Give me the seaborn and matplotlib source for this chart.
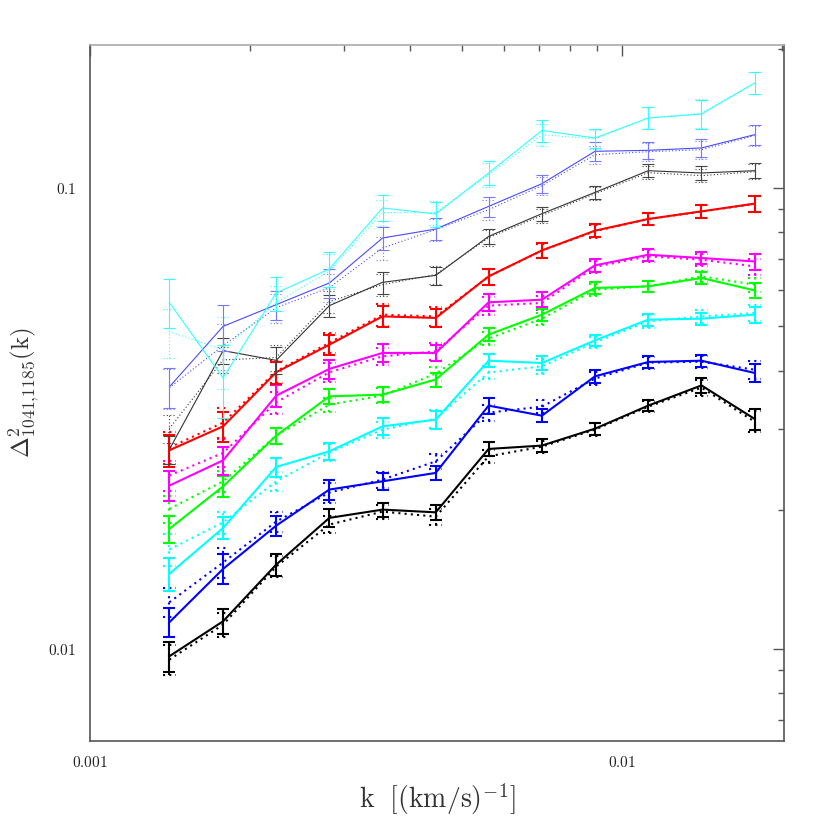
import numpy as np
import pandas as pd
import matplotlib
matplotlib.use("Agg")
import matplotlib.pyplot as plt
import seaborn as sns
from matplotlib.ticker import LogLocator, FixedLocator, FixedFormatter, NullFormatter

# ---------------- data ----------------
k = [0.00141, 0.00178, 0.00224, 0.00282, 0.00355, 0.00447,
     0.00562, 0.00708, 0.00891, 0.01122, 0.01413, 0.01778]

series_names = ["black", "blue", "cyan", "green", "magenta", "red",
                "black_thin", "blue_thin", "cyan_thin"]

# measured (solid) values
black_obs = [0.00962, 0.01146, 0.01521, 0.01921, 0.02002, 0.01975,
             0.02711, 0.02757, 0.03000, 0.03366, 0.03724, 0.03150]
blue_obs = [0.01140, 0.01489, 0.01848, 0.02213, 0.02306, 0.02405,
            0.03366, 0.03201, 0.03897, 0.04186, 0.04213, 0.03963]
cyan_obs = [0.01452, 0.01827, 0.02478, 0.02679, 0.03035, 0.03138,
            0.04213, 0.04165, 0.04664, 0.05172, 0.05197, 0.05302]
green_obs = [0.01818, 0.02249, 0.02897, 0.03526, 0.03556, 0.03835,
             0.04799, 0.05302, 0.06059, 0.06108, 0.06369, 0.05987]
magenta_obs = [0.02257, 0.02561, 0.03538, 0.04044, 0.04380, 0.04380,
               0.05639, 0.05715, 0.06784, 0.07153, 0.07036, 0.06918]
red_obs = [0.02693, 0.03035, 0.03976, 0.04564, 0.05257, 0.05216,
           0.06421, 0.07311, 0.08067, 0.08553, 0.08884, 0.09233]
black_thin_obs = [0.02702, 0.04430, 0.04220, 0.05546, 0.06231, 0.06452,
                  0.07839, 0.08782, 0.09768, 0.10886, 0.10762, 0.10886]
blue_thin_obs = [0.03695, 0.05001, 0.05574, 0.06212, 0.07776, 0.08133,
                 0.09109, 0.10202, 0.11993, 0.12053, 0.12198, 0.13031]
cyan_thin_obs = [0.05638, 0.03866, 0.05910, 0.06662, 0.09036, 0.08769,
                 0.10762, 0.13311, 0.12815, 0.14163, 0.14449, 0.16867]

# comparison (dotted) values
black_alt = [0.00946, 0.01127, 0.01506, 0.01858, 0.01982, 0.01933,
             0.02613, 0.02742, 0.02986, 0.03349, 0.03683, 0.03108]
blue_alt = [0.01260, 0.01537, 0.01886, 0.02180, 0.02326, 0.02548,
            0.03250, 0.03349, 0.03853, 0.04172, 0.04193, 0.04028]
cyan_alt = [0.01640, 0.01879, 0.02306, 0.02661, 0.02986, 0.03154,
            0.03970, 0.04097, 0.04617, 0.05129, 0.05257, 0.05347]
green_alt = [0.02009, 0.02306, 0.02897, 0.03383, 0.03538, 0.03950,
             0.04704, 0.05197, 0.06006, 0.06108, 0.06421, 0.06161]
magenta_alt = [0.02373, 0.02658, 0.03422, 0.03976, 0.04306, 0.04414,
               0.05546, 0.05622, 0.06730, 0.07096, 0.06979, 0.06750]
red_alt = [0.02729, 0.03092, 0.03996, 0.04610, 0.05302, 0.05257,
           0.06416, 0.07301, 0.08047, 0.08545, 0.08876, 0.09222]
black_thin_alt = [0.03000, 0.04230, 0.04280, 0.05660, 0.06160, 0.06480,
                  0.07790, 0.08700, 0.09700, 0.10780, 0.10620, 0.10830]
blue_thin_alt = [0.03680, 0.04543, 0.05490, 0.06070, 0.07400, 0.08110,
                 0.08960, 0.10100, 0.11790, 0.11970, 0.12090, 0.12970]
cyan_thin_alt = [0.04871, 0.04452, 0.05630, 0.06590, 0.08830, 0.08830,
                 0.10670, 0.13030, 0.12760, 0.14160, 0.14520, 0.16870]

# relative 1-sigma errors
black_err = [0.075, 0.062, 0.053, 0.043, 0.036, 0.039, 0.033, 0.031, 0.031, 0.028, 0.039, 0.052]
blue_err = [0.072, 0.075, 0.050, 0.050, 0.041, 0.036, 0.041, 0.033, 0.031, 0.029, 0.029, 0.045]
cyan_err = [0.080, 0.055, 0.047, 0.043, 0.041, 0.044, 0.033, 0.036, 0.029, 0.031, 0.031, 0.039]
green_err = [0.068, 0.052, 0.041, 0.036, 0.037, 0.035, 0.033, 0.029, 0.029, 0.026, 0.028, 0.036]
magenta_err = [0.076, 0.070, 0.055, 0.048, 0.043, 0.041, 0.044, 0.037, 0.031, 0.030, 0.031, 0.040]
red_err = [0.080, 0.075, 0.055, 0.050, 0.053, 0.046, 0.040, 0.035, 0.032, 0.031, 0.031, 0.039]
black_thin_err = [0.070, 0.065, 0.067, 0.055, 0.055, 0.045, 0.039, 0.035, 0.033, 0.032, 0.033, 0.037]
blue_thin_err = [0.100, 0.115, 0.073, 0.070, 0.057, 0.055, 0.050, 0.046, 0.046, 0.044, 0.046, 0.050]
cyan_thin_err = [0.122, 0.180, 0.085, 0.087, 0.065, 0.062, 0.060, 0.055, 0.047, 0.055, 0.070, 0.055]

x_tick_vals = [0.001, 0.01]
x_tick_labels = ["0.001", "0.01"]
y_tick_vals = [0.01, 0.1]
y_tick_labels = ["0.01", "0.1"]

# ---------------- style ----------------
obs = dict(black=black_obs, blue=blue_obs, cyan=cyan_obs, green=green_obs,
           magenta=magenta_obs, red=red_obs, black_thin=black_thin_obs,
           blue_thin=blue_thin_obs, cyan_thin=cyan_thin_obs)
alt = dict(black=black_alt, blue=blue_alt, cyan=cyan_alt, green=green_alt,
           magenta=magenta_alt, red=red_alt, black_thin=black_thin_alt,
           blue_thin=blue_thin_alt, cyan_thin=cyan_thin_alt)
errs = dict(black=black_err, blue=blue_err, cyan=cyan_err, green=green_err,
            magenta=magenta_err, red=red_err, black_thin=black_thin_err,
            blue_thin=blue_thin_err, cyan_thin=cyan_thin_err)

line_color = dict(black="#000000", blue="#0000ff", cyan="#00ffff", green="#00ff00",
                  magenta="#ff00ff", red="#ff0000", black_thin="#333333",
                  blue_thin="#4a4aff", cyan_thin="#33ffff")
err_color = dict(black="#000000", blue="#0000ff", cyan="#00ffff", green="#00ff00",
                 magenta="#ff00ff", red="#ff0000", black_thin="#444444",
                 blue_thin="#7777ff", cyan_thin="#33ffff")
thin = {"black_thin", "blue_thin", "cyan_thin"}

sns.set_style("white")
plt.rcParams["mathtext.fontset"] = "cm"
plt.rcParams["font.family"] = ["DejaVu Serif"]

fig = plt.figure(figsize=(8.3, 8.3), dpi=100)
ax = fig.add_axes([0.1084, 0.1072, 0.8362, 0.8386])
ax.set_xscale("log")
ax.set_yscale("log")

rows = []
for name in series_names:
    for kk, vo, va in zip(k, obs[name], alt[name]):
        rows.append(dict(series=name, k=kk, kind="obs", value=vo))
        rows.append(dict(series=name, k=kk, kind="alt", value=va))
df = pd.DataFrame(rows)

for name in series_names:
    lw = 0.8 if name in thin else 1.5
    capw = 0.8 if name in thin else 1.5
    cap_half = 0.012
    c = line_color[name]
    ec = err_color[name]
    d_obs = df[(df.series == name) & (df.kind == "obs")]
    d_alt = df[(df.series == name) & (df.kind == "alt")]
    sns.lineplot(data=d_obs, x="k", y="value", ax=ax, color=c, lw=lw,
                 estimator=None, sort=False, legend=False, zorder=3)
    sns.lineplot(data=d_alt, x="k", y="value", ax=ax, color=c, lw=lw,
                 estimator=None, sort=False, legend=False, zorder=2,
                 dashes=False, linestyle=(0, (1, 2)))
    kv = np.asarray(k)
    vo = np.asarray(obs[name])
    va = np.asarray(alt[name])
    re = np.asarray(errs[name])
    ax.errorbar(kv, vo, yerr=vo * re, fmt="none", ecolor=ec, elinewidth=capw,
                capsize=4.6, capthick=capw, zorder=3)
    # dotted error bars for the comparison curves
    lo = va * (1 - re)
    hi = va * (1 + re)
    ax.vlines(kv, lo, hi, colors=ec, linestyles=(0, (1, 2)), lw=capw, zorder=2)
    for yy in (lo, hi):
        ax.hlines(yy, kv * 10 ** (-cap_half), kv * 10 ** cap_half, colors=ec,
                  linestyles=(0, (1, 2)), lw=capw, zorder=2)

ax.set_xlim(0.001, 0.0202)
ax.set_ylim(0.0063, 0.204)

ax.xaxis.set_major_locator(FixedLocator(x_tick_vals))
ax.xaxis.set_major_formatter(FixedFormatter(["$" + s + "$" for s in x_tick_labels]))
ax.xaxis.set_minor_locator(LogLocator(base=10, subs=np.arange(2, 10)))
ax.xaxis.set_minor_formatter(NullFormatter())
ax.yaxis.set_major_locator(FixedLocator(y_tick_vals))
ax.yaxis.set_major_formatter(FixedFormatter(["$" + s + "$" for s in y_tick_labels]))
ax.yaxis.set_minor_locator(LogLocator(base=10, subs=np.arange(2, 10)))
ax.yaxis.set_minor_formatter(NullFormatter())

ax.tick_params(which="both", direction="in", top=True, right=True, colors="#555555",
               labelcolor="#222222", labelsize=11)
ax.tick_params(which="major", length=8, width=1.0, pad=10)
ax.tick_params(which="minor", length=4, width=1.0)
for sp in ax.spines.values():
    sp.set_color("#555555")
    sp.set_linewidth(1.2)
ax.spines["top"].set_color("#aaaaaa")

ax.set_xlabel(r"$\mathrm{k}\ \ [(\mathrm{km/s})^{-1}]$", fontsize=20, color="#333333", labelpad=8)
ax.set_ylabel(r"$\Delta^2_{1041{,}1185}(\mathrm{k})$", fontsize=18, color="#333333", labelpad=4)

fig.savefig("out.png", dpi=100)
